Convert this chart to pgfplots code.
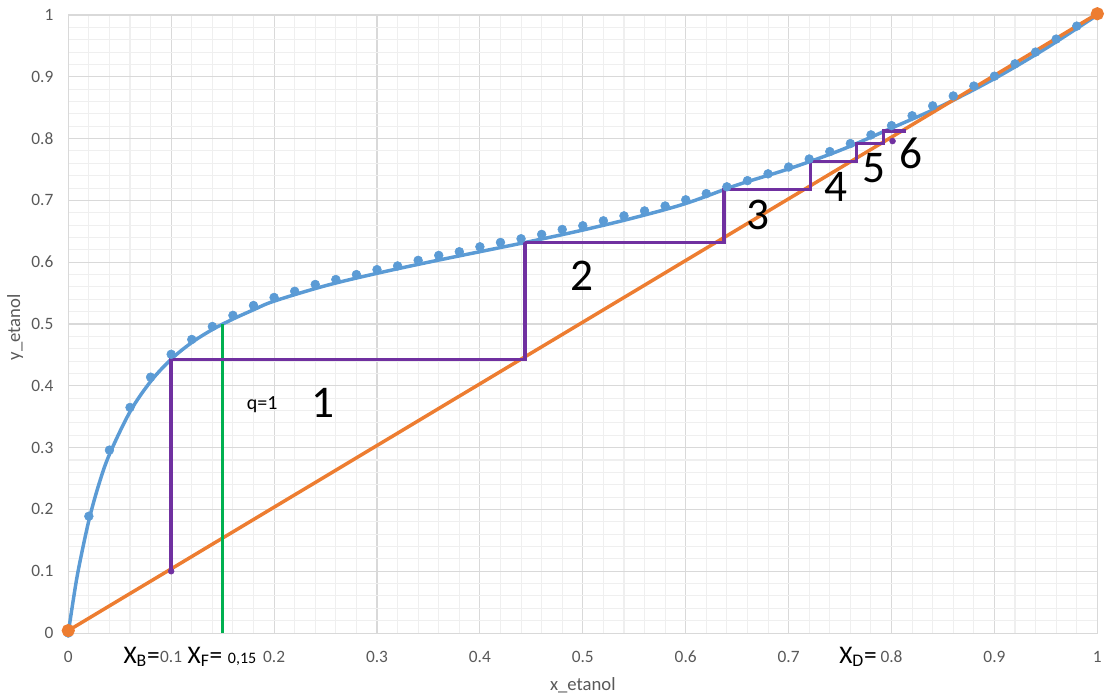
\documentclass[border=0pt]{standalone}
\usepackage{fontspec}
\setmainfont{Carlito}
\usepackage{pgfplots}
\pgfplotsset{compat=1.18}
\definecolor{exblue}{HTML}{5B9BD5}
\definecolor{exorange}{HTML}{ED7D31}
\definecolor{expurple}{HTML}{7030A0}
\definecolor{exgreen}{HTML}{00B050}
\definecolor{ticktxt}{HTML}{595959}
\definecolor{majgrid}{HTML}{D9D9D9}
\definecolor{mingrid}{HTML}{EFEFEF}
\begin{document}
\begin{tikzpicture}
\begin{axis}[
  scale only axis,
  width=771.75pt, height=463.5pt,
  xmin=0, xmax=1, ymin=0, ymax=1,
  xtick={0,0.1,0.2,0.3,0.4,0.5,0.6,0.7,0.8,0.9,1},
  ytick={0,0.1,0.2,0.3,0.4,0.5,0.6,0.7,0.8,0.9,1},
  minor x tick num=4, minor y tick num=4,
  grid=both,
  major grid style={draw=majgrid, line width=0.8pt},
  minor grid style={draw=mingrid, line width=0.8pt},
  axis line style={draw=majgrid, line width=0.8pt},
  major tick length=0pt, minor tick length=0pt,
  tick style={draw=none},
  /pgf/number format/assume math mode=true,
  ticklabel style={font=\fontsize{13}{15}\selectfont, text=ticktxt, inner sep=0pt},
  xticklabel style={anchor=base, yshift=-22pt},
  yticklabel style={anchor=east, xshift=-11pt},
  clip=false,
]
% equilibrium curve (fitted)
\addplot[exblue, line width=2.6pt, smooth, tension=0.55] coordinates {
(0,0) (0.005,0.055) (0.01,0.104) (0.02,0.182) (0.03,0.242) (0.04,0.289)
(0.06,0.358) (0.08,0.407) (0.10,0.443) (0.12,0.470) (0.14,0.491) (0.16,0.508)
(0.18,0.523) (0.20,0.537) (0.25,0.562) (0.30,0.582) (0.35,0.600) (0.40,0.617)
(0.45,0.634) (0.50,0.652) (0.55,0.672) (0.60,0.695) (0.65,0.725) (0.70,0.751)
(0.75,0.781) (0.80,0.817) (0.85,0.854) (0.90,0.897) (0.95,0.946) (1,1)};
% equilibrium data points
\addplot[only marks, mark=*, mark size=3.3pt, color=exblue] coordinates {
(0,0) (0.02,0.189) (0.04,0.296) (0.06,0.365) (0.08,0.414) (0.10,0.451)
(0.12,0.475) (0.14,0.496) (0.16,0.514) (0.18,0.530) (0.20,0.543) (0.22,0.553)
(0.24,0.564) (0.26,0.572) (0.28,0.580) (0.30,0.588) (0.32,0.594) (0.34,0.603)
(0.36,0.611) (0.38,0.617) (0.40,0.625) (0.42,0.632) (0.44,0.638) (0.46,0.645)
(0.48,0.653) (0.50,0.659) (0.52,0.667) (0.54,0.675) (0.56,0.683) (0.58,0.691)
(0.60,0.701) (0.62,0.711) (0.64,0.722) (0.66,0.732) (0.68,0.743) (0.70,0.754)
(0.72,0.767) (0.74,0.779) (0.76,0.792) (0.78,0.806) (0.80,0.821) (0.82,0.837)
(0.84,0.853) (0.86,0.869) (0.88,0.885) (0.90,0.901) (0.92,0.921) (0.94,0.940)
(0.96,0.961) (0.98,0.982)};
% diagonal
\addplot[exorange, line width=2.6pt, mark=*, mark size=3.6pt, mark options={fill=exorange}] coordinates {(0,0.004) (1,1.002)};
% q-line
\addplot[exgreen, line width=2.6pt] coordinates {(0.15,0) (0.15,0.5)};
% stages
\addplot[expurple, line width=2.6pt] coordinates {
(0.1,0.1) (0.1,0.443) (0.444,0.443) (0.444,0.632) (0.637,0.632) (0.637,0.718)
(0.721,0.718) (0.721,0.763) (0.766,0.763) (0.766,0.792) (0.792,0.792)
(0.792,0.812) (0.814,0.812)};
\addplot[only marks, mark=*, mark size=2.2pt, color=expurple] coordinates {(0.1,0.1) (0.801,0.796)};
% annotations
\node[font=\fontsize{15}{17}\selectfont] at (axis cs:0.1885,0.370) {q=1};
\node[font=\fontsize{34}{38}\selectfont] at (axis cs:0.248,0.372) {1};
\node[font=\fontsize{34}{38}\selectfont] at (axis cs:0.4995,0.578) {2};
\node[font=\fontsize{34}{38}\selectfont] at (axis cs:0.670,0.676) {3};
\node[font=\fontsize{34}{38}\selectfont] at (axis cs:0.746,0.721) {4};
\node[font=\fontsize{34}{38}\selectfont] at (axis cs:0.783,0.752) {5};
\node[font=\fontsize{34}{38}\selectfont] at (axis cs:0.819,0.776) {6};
\node[font=\fontsize{19}{22}\selectfont, anchor=base west, inner sep=0pt] at (axis cs:0.0535,-0.0485) {X\textsubscript{B}=};
\node[font=\fontsize{19}{22}\selectfont, anchor=base west, inner sep=0pt] at (axis cs:0.1157,-0.0485) {X\textsubscript{F}= {\fontsize{12}{14}\selectfont 0,15}};
\node[font=\fontsize{19}{22}\selectfont, anchor=base west, inner sep=0pt] at (axis cs:0.749,-0.0485) {X\textsubscript{D}=};
\node[font=\fontsize{14}{16}\selectfont, text=ticktxt] at (axis cs:0.5,-0.084) {x\_etanol};
\node[font=\fontsize{14}{16}\selectfont, text=ticktxt, rotate=90] at (axis cs:-0.0515,0.495) {y\_etanol};
\end{axis}
\pgfresetboundingbox
\path[use as bounding box] ([xshift=-51.2pt,yshift=-49.5pt]current axis.south west) rectangle ([xshift=11pt,yshift=11.25pt]current axis.north east);
\end{tikzpicture}
\end{document}
